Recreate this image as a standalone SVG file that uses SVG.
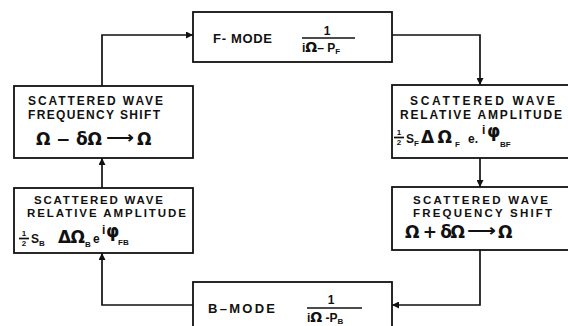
<svg xmlns="http://www.w3.org/2000/svg" width="568" height="326" viewBox="0 0 568 326">
<style>
.box{fill:none;stroke:#111;stroke-width:1.8}
.ln{fill:none;stroke:#111;stroke-width:1.7}
.t{font-family:"Liberation Sans",Arial,sans-serif;font-weight:bold;font-size:12px;fill:#111}
.h{font-family:"Liberation Sans",Arial,sans-serif;font-weight:bold;font-size:11.5px;fill:#111}
.m{font-family:"DejaVu Sans",sans-serif;font-weight:bold;font-size:17px;fill:#111}
.s{font-family:"Liberation Sans",Arial,sans-serif;font-weight:bold;font-size:8px;fill:#111}
.f{font-family:"Liberation Sans",Arial,sans-serif;font-weight:bold;font-size:8px;fill:#111}
.mt{font-family:"Liberation Sans",Arial,sans-serif;font-weight:bold;font-size:13px;fill:#111}
</style>
<defs>
<marker id="ah" viewBox="0 0 10 10" refX="10" refY="5" markerWidth="9" markerHeight="7" markerUnits="userSpaceOnUse" orient="auto">
<path d="M0,0 L10,5 L0,10 z" fill="#111"/>
</marker>
</defs>
<rect width="568" height="326" fill="#fff"/>

<g id="connectors">
<polyline class="ln" points="102,86 102,35 193,35" marker-end="url(#ah)"/>
<polyline class="ln" points="392,35 480,35 480,85" marker-end="url(#ah)"/>
<line class="ln" x1="480" y1="158" x2="480" y2="187" marker-end="url(#ah)"/>
<polyline class="ln" points="480,250 480,305 392,305" marker-end="url(#ah)"/>
<polyline class="ln" points="193,305 102,305 102,253" marker-end="url(#ah)"/>
<line class="ln" x1="102" y1="188" x2="102" y2="158" marker-end="url(#ah)"/>
</g>

<g id="fmode">
<rect class="box" x="193" y="12" width="199" height="50"/>
<text class="mt" x="213" y="43" textLength="59" lengthAdjust="spacing">F- MODE</text>
<text class="t" x="327" y="35" text-anchor="middle">1</text>
<line class="ln" x1="302" y1="38" x2="355" y2="38" stroke-width="1.3"/>
<text class="t" x="302" y="52" font-size="13"><tspan>i</tspan><tspan font-family="DejaVu Sans" font-size="14">Ω</tspan><tspan>– P</tspan><tspan class="s" dy="2">F</tspan></text>
</g>

<g id="shift-top-left">
<rect class="box" x="14" y="86" width="179" height="72"/>
<text class="t" x="28" y="105" textLength="135" lengthAdjust="spacing">SCATTERED  WAVE</text>
<text class="t" x="28" y="119" textLength="132" lengthAdjust="spacing">FREQUENCY SHIFT</text>
<text class="m" x="36" y="145" textLength="66" lengthAdjust="spacing">Ω − δΩ</text>
<text class="m" x="106" y="143" textLength="28" lengthAdjust="spacingAndGlyphs">⟶</text>
<text class="m" x="137" y="145">Ω</text>
</g>

<g id="amp-top-right">
<rect class="box" x="392" y="85" width="180" height="73"/>
<text class="t" x="410" y="105" textLength="145" lengthAdjust="spacing">SCATTERED  WAVE</text>
<text class="t" x="400" y="119" textLength="162" lengthAdjust="spacing">RELATIVE  AMPLITUDE</text>
<text class="f" x="399" y="135" text-anchor="middle">1</text>
<line class="ln" x1="394" y1="137.5" x2="404" y2="137.5" stroke-width="1"/>
<text class="f" x="399" y="145" text-anchor="middle">2</text>
<text class="t" x="406" y="143">S</text>
<text class="s" x="414" y="146">F</text>
<text class="m" x="421" y="143" textLength="31" lengthAdjust="spacing">ΔΩ</text>
<text class="s" x="455" y="147">F</text>
<text class="t" x="468" y="143">e.</text>
<text class="t" x="482" y="134" font-size="11">i</text>
<text class="m" x="487" y="137" font-size="15" font-weight="normal">φ</text>
<text class="s" x="500" y="147">BF</text>
</g>

<g id="amp-bottom-left">
<rect class="box" x="14" y="188" width="179" height="65"/>
<text class="h" x="34" y="204" textLength="129" lengthAdjust="spacing">SCATTERED WAVE</text>
<text class="h" x="27" y="217" textLength="159" lengthAdjust="spacing">RELATIVE AMPLITUDE</text>
<text class="f" x="24" y="236" text-anchor="middle">1</text>
<line class="ln" x1="19" y1="238.5" x2="29" y2="238.5" stroke-width="1"/>
<text class="f" x="24" y="246" text-anchor="middle">2</text>
<text class="t" x="31" y="243">S</text>
<text class="s" x="39" y="246">B</text>
<text class="m" x="58" y="243" textLength="27" lengthAdjust="spacing">ΔΩ</text>
<text class="s" x="85" y="247">B</text>
<text class="t" x="93" y="243">e</text>
<text class="t" x="102" y="234" font-size="11">i</text>
<text class="m" x="106" y="237" font-size="15" font-weight="normal">φ</text>
<text class="s" x="118" y="245">FB</text>
</g>

<g id="shift-bottom-right">
<rect class="box" x="392" y="187" width="180" height="63"/>
<text class="h" x="413" y="204" textLength="135" lengthAdjust="spacing">SCATTERED  WAVE</text>
<text class="h" x="413" y="217" textLength="139" lengthAdjust="spacing">FREQUENCY  SHIFT</text>
<text class="m" x="405" y="238" textLength="60" lengthAdjust="spacing">Ω + δΩ</text>
<text class="m" x="467" y="236" textLength="29" lengthAdjust="spacingAndGlyphs">⟶</text>
<text class="m" x="498" y="238">Ω</text>
</g>

<g id="bmode">
<rect class="box" x="193" y="282" width="199" height="50"/>
<text class="mt" x="208" y="313" textLength="67" lengthAdjust="spacing">B–MODE</text>
<text class="t" x="331" y="304" text-anchor="middle">1</text>
<line class="ln" x1="307" y1="308" x2="362" y2="308" stroke-width="1.3"/>
<text class="t" x="307" y="322" font-size="13"><tspan>i</tspan><tspan font-family="DejaVu Sans" font-size="14">Ω</tspan><tspan> -P</tspan><tspan class="s" dy="2">B</tspan></text>
</g>
</svg>
